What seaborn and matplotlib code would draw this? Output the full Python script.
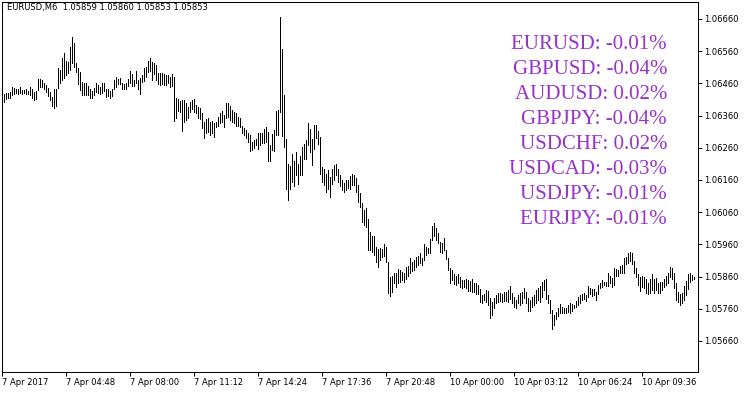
import numpy as np
import pandas as pd
import matplotlib
matplotlib.use("Agg")
import matplotlib.pyplot as plt
import seaborn as sns

symbol = "EURUSD"
timeframe = "M6"
last_ohlc = [1.05859, 1.05860, 1.05853, 1.05853]

high = [
    1.06426, 1.06429, 1.06431, 1.06434, 1.06448, 1.06445, 1.06444, 1.06442, 1.06450, 1.06439,
    1.06439, 1.06442, 1.06436, 1.06448, 1.06442, 1.06434, 1.06436, 1.06473, 1.06473, 1.06471,
    1.06460, 1.06455, 1.06445, 1.06434, 1.06419, 1.06442, 1.06442, 1.06507, 1.06502, 1.06538,
    1.06553, 1.06530, 1.06527, 1.06574, 1.06603, 1.06586, 1.06522, 1.06507, 1.06496, 1.06465,
    1.06460, 1.06460, 1.06452,
    1.06442, 1.06437, 1.06447, 1.06460, 1.06454, 1.06450, 1.06461, 1.06461, 1.06443, 1.06443,
    1.06437, 1.06443, 1.06471, 1.06479, 1.06474, 1.06478, 1.06460, 1.06457, 1.06460, 1.06473,
    1.06498, 1.06489, 1.06471, 1.06498, 1.06471, 1.06476, 1.06486, 1.06507, 1.06512, 1.06530,
    1.06538, 1.06527, 1.06522, 1.06517, 1.06493, 1.06491, 1.06491, 1.06489, 1.06486, 1.06486,
    1.06481, 1.06489, 1.06481, 1.06414, 1.06411,
    1.06405, 1.06408, 1.06408, 1.06398, 1.06388, 1.06403, 1.06408, 1.06411, 1.06393, 1.06388,
    1.06383, 1.06367, 1.06341, 1.06348, 1.06352, 1.06341, 1.06344, 1.06336, 1.06341, 1.06355,
    1.06367, 1.06375, 1.06362, 1.06398, 1.06400, 1.06390, 1.06377, 1.06372, 1.06367, 1.06357,
    1.06352, 1.06328, 1.06321, 1.06315, 1.06307, 1.06300, 1.06279, 1.06284, 1.06286, 1.06305,
    1.06305, 1.06307, 1.06317, 1.06324, 1.06309,
    1.06270, 1.06304, 1.06314, 1.06373, 1.06376, 1.06666, 1.06568, 1.06423, 1.06288, 1.06211,
    1.06203, 1.06242, 1.06218, 1.06247, 1.06211, 1.06234, 1.06262, 1.06273, 1.06283, 1.06337,
    1.06319, 1.06288, 1.06330, 1.06332, 1.06311, 1.06294, 1.06200, 1.06195, 1.06178, 1.06190,
    1.06169, 1.06193, 1.06206, 1.06211, 1.06195, 1.06174, 1.06159, 1.06152, 1.06159, 1.06159,
    1.06172, 1.06179, 1.06174, 1.06166, 1.06143,
    1.06119, 1.06087, 1.06067, 1.06072, 1.06038, 1.05999, 1.05986, 1.05986, 1.05951, 1.05945,
    1.05948, 1.05945, 1.05961, 1.05951, 1.05906, 1.05860, 1.05862, 1.05870, 1.05872, 1.05883,
    1.05880, 1.05875, 1.05872, 1.05891, 1.05893, 1.05917, 1.05906, 1.05911, 1.05922, 1.05924,
    1.05934, 1.05917, 1.05961, 1.05953, 1.05948, 1.05976, 1.06017, 1.06027, 1.06010, 1.05996,
    1.05968, 1.05963, 1.05979, 1.05943, 1.05919,
    1.05886, 1.05880, 1.05868, 1.05862, 1.05868, 1.05858, 1.05849, 1.05849, 1.05852, 1.05849,
    1.05847, 1.05852, 1.05839, 1.05839, 1.05834, 1.05820, 1.05803, 1.05806, 1.05818, 1.05816,
    1.05792, 1.05782, 1.05792, 1.05803, 1.05808, 1.05808, 1.05806, 1.05813, 1.05813, 1.05818,
    1.05831, 1.05808, 1.05797, 1.05787, 1.05803, 1.05808, 1.05813, 1.05824, 1.05813, 1.05792,
    1.05787, 1.05797, 1.05803, 1.05818, 1.05824,
    1.05831, 1.05844, 1.05849, 1.05852, 1.05803, 1.05787, 1.05756, 1.05741, 1.05751, 1.05761,
    1.05775, 1.05766, 1.05761, 1.05761, 1.05772, 1.05777, 1.05775, 1.05772, 1.05785, 1.05796,
    1.05803, 1.05806, 1.05808, 1.05803, 1.05831, 1.05824, 1.05820, 1.05820, 1.05813, 1.05834,
    1.05841, 1.05849, 1.05844, 1.05844, 1.05870, 1.05862, 1.05855, 1.05886, 1.05883, 1.05880,
    1.05893, 1.05896, 1.05917, 1.05922, 1.05934,
    1.05937, 1.05932, 1.05909, 1.05886, 1.05868, 1.05860, 1.05862, 1.05858, 1.05851, 1.05841,
    1.05851, 1.05868, 1.05851, 1.05855, 1.05841, 1.05844, 1.05844, 1.05851, 1.05862, 1.05872,
    1.05891, 1.05886, 1.05872, 1.05839, 1.05813, 1.05806, 1.05808, 1.05831, 1.05847, 1.05868,
    1.05870, 1.05865, 1.05860,
]

low = [
    1.06403, 1.06411, 1.06414, 1.06414, 1.06424, 1.06427, 1.06429, 1.06427, 1.06429, 1.06427,
    1.06429, 1.06427, 1.06427, 1.06424, 1.06414, 1.06408, 1.06412, 1.06439, 1.06448, 1.06450,
    1.06442, 1.06432, 1.06422, 1.06408, 1.06391, 1.06383, 1.06391, 1.06445, 1.06460, 1.06471,
    1.06476, 1.06486, 1.06493, 1.06502, 1.06522, 1.06512, 1.06496, 1.06458, 1.06439, 1.06424,
    1.06424, 1.06424, 1.06424,
    1.06416, 1.06416, 1.06424, 1.06434, 1.06429, 1.06427, 1.06431, 1.06437, 1.06417, 1.06421,
    1.06416, 1.06421, 1.06442, 1.06448, 1.06457, 1.06458, 1.06442, 1.06443, 1.06442, 1.06453,
    1.06460, 1.06452, 1.06452, 1.06460, 1.06442, 1.06427, 1.06465, 1.06467, 1.06481, 1.06494,
    1.06499, 1.06471, 1.06489, 1.06471, 1.06457, 1.06455, 1.06457, 1.06455, 1.06455, 1.06460,
    1.06448, 1.06452, 1.06344, 1.06352, 1.06375,
    1.06372, 1.06313, 1.06341, 1.06346, 1.06352, 1.06372, 1.06379, 1.06372, 1.06369, 1.06352,
    1.06348, 1.06321, 1.06289, 1.06305, 1.06310, 1.06300, 1.06305, 1.06294, 1.06324, 1.06328,
    1.06336, 1.06341, 1.06325, 1.06352, 1.06357, 1.06346, 1.06341, 1.06336, 1.06328, 1.06328,
    1.06325, 1.06305, 1.06300, 1.06289, 1.06279, 1.06251, 1.06253, 1.06258, 1.06269, 1.06255,
    1.06269, 1.06274, 1.06276, 1.06279, 1.06219,
    1.06218, 1.06252, 1.06249, 1.06301, 1.06301, 1.06371, 1.06297, 1.06262, 1.06133, 1.06097,
    1.06133, 1.06154, 1.06141, 1.06176, 1.06148, 1.06176, 1.06176, 1.06226, 1.06224, 1.06268,
    1.06247, 1.06206, 1.06257, 1.06290, 1.06273, 1.06179, 1.06154, 1.06143, 1.06123, 1.06133,
    1.06107, 1.06148, 1.06159, 1.06174, 1.06154, 1.06141, 1.06128, 1.06123, 1.06128, 1.06135,
    1.06133, 1.06145, 1.06143, 1.06123, 1.06092,
    1.06077, 1.06030, 1.06020, 1.06015, 1.05943, 1.05943, 1.05937, 1.05927, 1.05906, 1.05891,
    1.05911, 1.05920, 1.05924, 1.05906, 1.05808, 1.05800, 1.05813, 1.05841, 1.05827, 1.05841,
    1.05844, 1.05849, 1.05844, 1.05852, 1.05862, 1.05870, 1.05878, 1.05880, 1.05889, 1.05896,
    1.05901, 1.05896, 1.05911, 1.05927, 1.05932, 1.05934, 1.05974, 1.05986, 1.05974, 1.05965,
    1.05937, 1.05932, 1.05943, 1.05914, 1.05880,
    1.05841, 1.05849, 1.05837, 1.05834, 1.05839, 1.05829, 1.05824, 1.05829, 1.05824, 1.05816,
    1.05816, 1.05813, 1.05813, 1.05806, 1.05806, 1.05782, 1.05777, 1.05787, 1.05782, 1.05772,
    1.05730, 1.05741, 1.05761, 1.05777, 1.05782, 1.05785, 1.05782, 1.05785, 1.05785, 1.05782,
    1.05789, 1.05777, 1.05766, 1.05761, 1.05777, 1.05772, 1.05777, 1.05792, 1.05777, 1.05754,
    1.05754, 1.05766, 1.05772, 1.05777, 1.05786,
    1.05782, 1.05798, 1.05818, 1.05789, 1.05777, 1.05746, 1.05696, 1.05710, 1.05727, 1.05738,
    1.05746, 1.05748, 1.05746, 1.05746, 1.05751, 1.05748, 1.05754, 1.05761, 1.05766, 1.05772,
    1.05777, 1.05787, 1.05789, 1.05785, 1.05797, 1.05806, 1.05800, 1.05803, 1.05787, 1.05806,
    1.05824, 1.05827, 1.05834, 1.05831, 1.05831, 1.05839, 1.05829, 1.05834, 1.05862, 1.05862,
    1.05872, 1.05870, 1.05872, 1.05899, 1.05901,
    1.05909, 1.05899, 1.05872, 1.05860, 1.05834, 1.05816, 1.05829, 1.05824, 1.05808, 1.05806,
    1.05808, 1.05818, 1.05808, 1.05818, 1.05808, 1.05808, 1.05818, 1.05829, 1.05834, 1.05841,
    1.05858, 1.05852, 1.05824, 1.05787, 1.05782, 1.05772, 1.05779, 1.05787, 1.05803, 1.05820,
    1.05844, 1.05849, 1.05853,
]

time_labels = ["7 Apr 2017", "7 Apr 04:48", "7 Apr 08:00", "7 Apr 11:12", "7 Apr 14:24",
               "7 Apr 17:36", "7 Apr 20:48", "10 Apr 00:00", "10 Apr 03:12", "10 Apr 06:24",
               "10 Apr 09:36"]
price_ticks = [1.05660, 1.05760, 1.05860, 1.05960, 1.06060, 1.06160, 1.06260,
               1.06360, 1.06460, 1.06560, 1.06660]

pairs = ["EURUSD", "GBPUSD", "AUDUSD", "GBPJPY", "USDCHF", "USDCAD", "USDJPY", "EURJPY"]
changes = [-0.01, -0.04, 0.02, -0.04, 0.02, -0.03, -0.01, -0.01]

sns.set_theme(style="white")
plt.rcParams["font.family"] = ["DejaVu Sans"]

df = pd.DataFrame({"bar": np.arange(len(high)), "high": high, "low": low})

W, H = 750, 394
fig = plt.figure(figsize=(W / 100, H / 100), dpi=100)
fig.patch.set_facecolor("white")
ax = fig.add_axes([2 / W, 22 / H, 696 / W, 370 / H])
ax.set_facecolor("white")

ax.vlines(df["bar"], df["low"], df["high"], colors="black", linewidth=0.68,
          antialiased=False)

ax.set_xlim(-1.15, 346.85)
ax.set_ylim(1.055636, 1.067128)

for s in ax.spines.values():
    s.set_visible(True)
    s.set_color("black")
    s.set_linewidth(0.75)

ax.yaxis.tick_right()
ax.set_yticks(price_ticks)
ax.set_yticklabels([f"{p:.5f}" for p in price_ticks])
ax.tick_params(axis="y", which="both", direction="out", length=3, width=0.75,
               color="black", pad=1.5, labelsize=6, labelcolor="black", right=True, left=False)

bars_per_label = 32
xt = [-1 + bars_per_label * k for k in range(len(time_labels))]
ax.set_xticks(xt)
ax.set_xticklabels(time_labels, ha="left")
ax.tick_params(axis="x", which="both", direction="out", length=3, width=0.75,
               color="black", pad=1.5, labelsize=6, labelcolor="black", bottom=True)
for lbl in ax.get_xticklabels():
    lbl.set_horizontalalignment("left")
ax.grid(False)

header = f"{symbol},{timeframe}  " + " ".join(f"{v:.5f}" for v in last_ohlc)
ax.text(5 / 696, 1 - 6 / 370, header, transform=ax.transAxes, ha="left", va="center",
        fontsize=6, color="black")

for k, (p, c) in enumerate(zip(pairs, changes)):
    ax.text((667 - 2) / 696, 1 - (45 - 2 + 25 * k) / 370, f"{p}: {c:.2f}%",
            transform=ax.transAxes, ha="right", va="center", fontsize=15,
            color="#9932CC", family=["Liberation Serif", "DejaVu Serif"])

fig.savefig("out.png", dpi=100, facecolor="white")
